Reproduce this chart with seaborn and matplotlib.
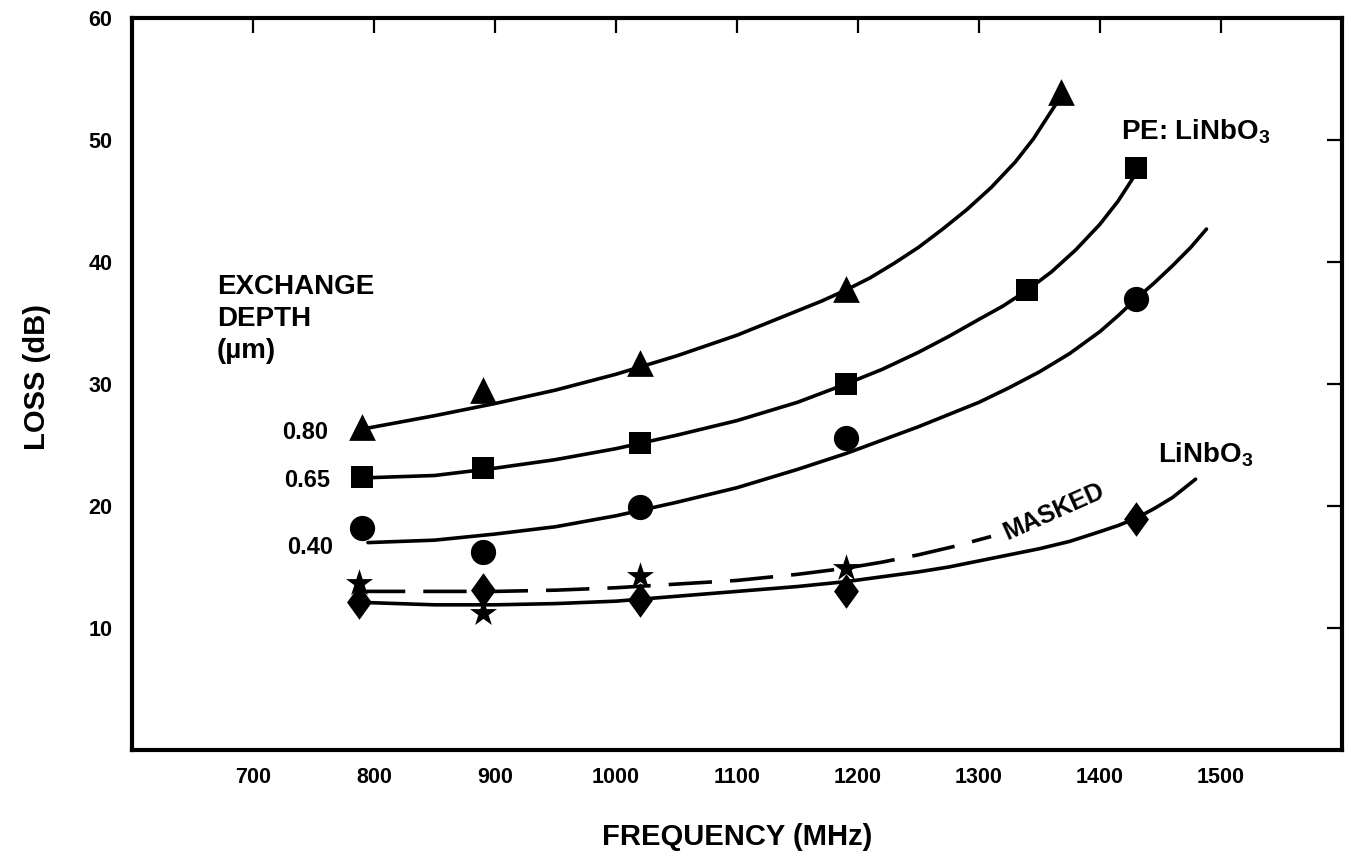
import numpy as np
import pandas as pd
import matplotlib.pyplot as plt
import seaborn as sns

# --- data ---
# fitted curves (frequency MHz, loss dB)
f_080 = [790, 850, 900, 950, 1000, 1050, 1100, 1150, 1170, 1190, 1210, 1230, 1250,
         1270, 1290, 1310, 1330, 1345, 1360, 1368]
l_080 = [26.3, 27.4, 28.4, 29.5, 30.8, 32.3, 34.0, 36.0, 36.8, 37.7, 38.7, 39.9, 41.2,
         42.7, 44.3, 46.1, 48.2, 50.1, 52.4, 53.6]

f_065 = [790, 850, 900, 950, 1000, 1050, 1100, 1150, 1190, 1220, 1250, 1275, 1300,
         1320, 1340, 1360, 1380, 1400, 1415, 1430]
l_065 = [22.3, 22.5, 23.1, 23.8, 24.7, 25.8, 27.0, 28.5, 30.0, 31.2, 32.6, 33.9, 35.3,
         36.4, 37.7, 39.2, 41.0, 43.1, 45.0, 47.3]

f_040 = [795, 850, 900, 950, 1000, 1050, 1100, 1150, 1190, 1220, 1250, 1275, 1300,
         1325, 1350, 1375, 1400, 1415, 1430, 1445, 1460, 1475, 1488]
l_040 = [17.0, 17.2, 17.7, 18.3, 19.2, 20.3, 21.5, 23.0, 24.3, 25.4, 26.5, 27.5, 28.5,
         29.7, 31.0, 32.5, 34.3, 35.6, 37.0, 38.3, 39.7, 41.2, 42.7]

f_mask = [790, 850, 900, 950, 1000, 1050, 1100, 1150, 1190, 1220, 1250, 1280, 1310]
l_mask = [13.0, 13.0, 13.0, 13.1, 13.3, 13.6, 13.9, 14.4, 14.9, 15.4, 16.0, 16.7, 17.5]

f_bare = [790, 850, 900, 950, 1000, 1050, 1100, 1150, 1190, 1220, 1250, 1275, 1300,
          1325, 1350, 1375, 1400, 1415, 1430, 1445, 1460, 1479]
l_bare = [12.1, 11.9, 11.9, 12.0, 12.2, 12.6, 13.0, 13.4, 13.8, 14.2, 14.6, 15.0, 15.5,
          16.0, 16.5, 17.1, 17.9, 18.4, 19.0, 19.8, 20.7, 22.2]

# measured points
tri_f = [790, 890, 1020, 1190, 1368]
tri_l = [26.5, 29.5, 31.7, 37.8, 53.9]
sq_f = [790, 890, 1020, 1190, 1340, 1430]
sq_l = [22.4, 23.1, 25.2, 30.0, 37.7, 47.7]
circ_f = [790, 890, 1020, 1190, 1430]
circ_l = [18.2, 16.2, 19.9, 25.6, 37.0]
star_f = [788, 890, 1020, 1190]
star_l = [13.7, 11.2, 14.3, 14.9]
diam_f = [788, 890, 1020, 1190, 1430]
diam_l = [12.1, 13.1, 12.3, 13.0, 18.9]

x_ticks = [700, 800, 900, 1000, 1100, 1200, 1300, 1400, 1500]
y_ticks = [10, 20, 30, 40, 50, 60]

sns.set_theme(style='white')
plt.rcParams['font.family'] = ['Liberation Sans', 'DejaVu Sans']
plt.rcParams['font.weight'] = 'bold'
plt.rcParams['text.color'] = 'black'
plt.rcParams['axes.labelcolor'] = 'black'
plt.rcParams['mathtext.fontset'] = 'custom'
plt.rcParams['mathtext.rm'] = 'Liberation Sans:bold'

fig = plt.figure(figsize=(13.51, 8.61), dpi=100)
ax = fig.add_axes([132 / 1351, 1 - 750 / 861, 1210 / 1351, 732 / 861])

lw = 2.6
for fx, ly in [(f_080, l_080), (f_065, l_065), (f_040, l_040), (f_bare, l_bare)]:
    sns.lineplot(x=fx, y=ly, color='black', linewidth=lw, sort=False,
                 estimator=None, solid_joinstyle='round', ax=ax)
sns.lineplot(x=f_mask, y=l_mask, color='black', linewidth=lw, sort=False,
             estimator=None, linestyle=(0, (12, 5)), ax=ax)

# diamond a bit wider than matplotlib's thin diamond
rhomb = [(0, 1), (0.72, 0), (0, -1), (-0.72, 0), (0, 1)]

mk = dict(color='black', edgecolor='black', linewidth=0, zorder=5, ax=ax)
sns.scatterplot(x=tri_f, y=tri_l, marker='^', s=370, **mk)
sns.scatterplot(x=sq_f, y=sq_l, marker='s', s=250, **mk)
sns.scatterplot(x=circ_f, y=circ_l, marker='o', s=330, **mk)
sns.scatterplot(x=star_f, y=star_l, marker='*', s=420, **mk)
sns.scatterplot(x=diam_f, y=diam_l, marker=rhomb, s=620, **mk)

ax.set_xlim(600, 1600)
ax.set_ylim(0, 60)
ax.set_xticks(x_ticks)
ax.set_yticks(y_ticks)
ax.tick_params(direction='in', length=11, width=1.6, top=True, right=True,
               labelsize=15.5, colors='black')
ax.tick_params(axis='y', pad=14)
ax.tick_params(axis='x', pad=12)
for lab in ax.get_xticklabels() + ax.get_yticklabels():
    lab.set_fontweight('bold')
for sp in ax.spines.values():
    sp.set_linewidth(3)
    sp.set_color('black')

ax.set_xlabel('FREQUENCY (MHz)', fontsize=21, fontweight='bold')
ax.set_ylabel('LOSS (dB)', fontsize=21, fontweight='bold')
ax.xaxis.set_label_coords(0.5, -0.10)
ax.yaxis.set_label_coords(-0.067, 0.51)

ax.text(670, 39.0, 'EXCHANGE\nDEPTH\n(\u00b5m)', fontsize=20, fontweight='bold',
        va='top', ha='left', linespacing=1.3)
ax.text(762, 26.0, '0.80', fontsize=17, fontweight='bold', ha='right', va='center')
ax.text(764, 22.1, '0.65', fontsize=17, fontweight='bold', ha='right', va='center')
ax.text(766, 16.6, '0.40', fontsize=17, fontweight='bold', ha='right', va='center')
ax.text(1417, 50.7, r'PE: LiNbO$_\mathrm{3}$', fontsize=20, fontweight='bold',
        ha='left', va='center')
ax.text(1448, 24.2, r'LiNbO$_\mathrm{3}$', fontsize=20, fontweight='bold',
        ha='left', va='center')
ax.text(1362, 19.5, 'MASKED', fontsize=18, fontweight='bold', rotation=24,
        ha='center', va='center', rotation_mode='anchor')

plt.savefig('out.png', dpi=100)
